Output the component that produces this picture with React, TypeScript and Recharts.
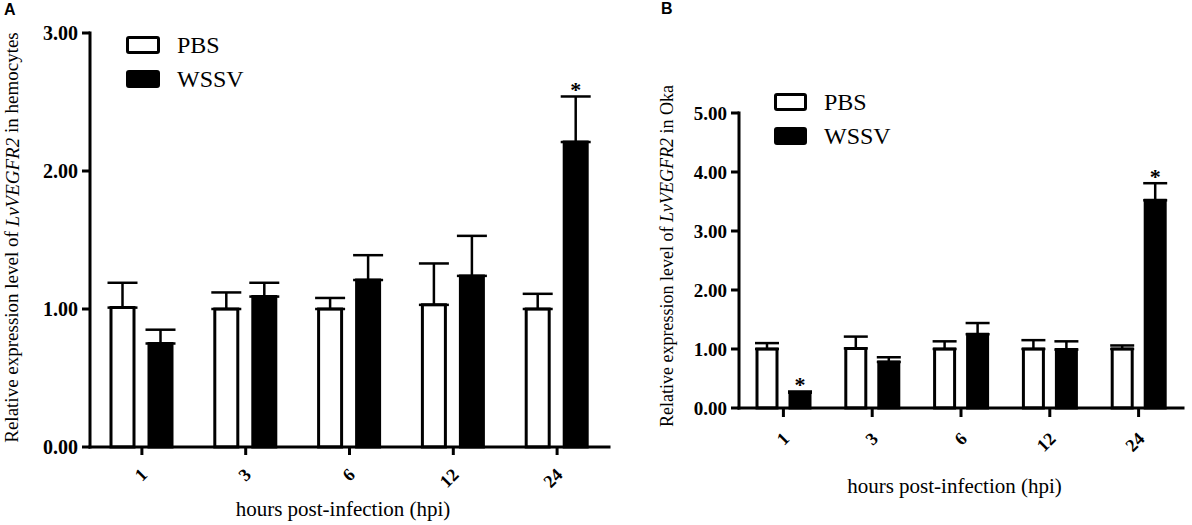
import React from 'react';
import { BarChart, Bar, XAxis, YAxis, ErrorBar, Legend, LabelList, Label } from 'recharts';

// ---------- data ----------
const hours = ['1', '3', '6', '12', '24'];

const pbsHemocytes = [1.01, 1.0, 1.0, 1.03, 1.0];
const pbsHemocytesErr = [0.18, 0.12, 0.08, 0.3, 0.11];
const wssvHemocytes = [0.75, 1.09, 1.21, 1.24, 2.21];
const wssvHemocytesErr = [0.1, 0.1, 0.18, 0.29, 0.33];
const sigHemocytes = ['', '', '', '', '*'];

const pbsOka = [1.0, 1.01, 1.0, 1.0, 1.0];
const pbsOkaErr = [0.1, 0.2, 0.13, 0.15, 0.06];
const wssvOka = [0.26, 0.78, 1.25, 0.99, 3.52];
const wssvOkaErr = [0.02, 0.08, 0.19, 0.14, 0.29];
const sigOka = ['*', '', '', '', '*'];

const yTicksA = [0, 1, 2, 3];
const yTicksB = [0, 1, 2, 3, 4, 5];

const seriesNames = ['PBS', 'WSSV'];
const xTitle = 'hours post-infection (hpi)';

// ---------- styling ----------
const SERIF = "'Liberation Serif', 'Times New Roman', serif";
const SANS = "'Liberation Sans', Arial, sans-serif";
const fills: Record<string, string> = { PBS: '#ffffff', WSSV: '#000000' };

type Row = {
  hour: string;
  pbs: number;
  pbsErr: number[];
  wssv: number;
  wssvErr: number[];
  sig: string;
};

const buildRows = (p: number[], pe: number[], w: number[], we: number[], s: string[]): Row[] =>
  hours.map((h, i) => ({
    hour: h,
    pbs: p[i],
    pbsErr: [0, pe[i]],
    wssv: w[i],
    wssvErr: [0, we[i]],
    sig: s[i],
  }));

const rowsA = buildRows(pbsHemocytes, pbsHemocytesErr, wssvHemocytes, wssvHemocytesErr, sigHemocytes);
const rowsB = buildRows(pbsOka, pbsOkaErr, wssvOka, wssvOkaErr, sigOka);

const makeStar = (rows: Row[]) => (props: any) => {
  const { x, y, width, height, value, index } = props;
  if (!value) return null;
  const row = rows[index];
  const pxPerUnit = height / row.wssv;
  const errTop = y - row.wssvErr[1] * pxPerUnit;
  return (
    <text
      x={x + width / 2}
      y={errTop + 1}
      textAnchor="middle"
      fontFamily={SERIF}
      fontWeight="bold"
      fontSize={22}
      fill="#000"
    >
      {value}
    </text>
  );
};

const makeXTick = (dx: number, dy: number) => (props: any) => {
  const { x, y, payload } = props;
  return (
    <g transform={`translate(${x + dx},${y + dy})`}>
      <text
        transform="rotate(-45)"
        textAnchor="end"
        fontFamily={SERIF}
        fontWeight="bold"
        fontSize={18}
        fill="#000"
      >
        {payload.value}
      </text>
    </g>
  );
};

const makeXTitle = (baselineOffset: number) => (props: any) => {
  const vb = props.viewBox;
  return (
    <text
      x={vb.x + vb.width / 2 - 6.5}
      y={vb.y + baselineOffset}
      textAnchor="middle"
      fontFamily={SERIF}
      fontSize={21}
      fill="#000"
    >
      {xTitle}
    </text>
  );
};

const makeYTitle = (cx: number, dyCenter: number, fontSize: number, suffix: string) => (props: any) => {
  const vb = props.viewBox;
  const cy = vb.y + vb.height / 2 + dyCenter;
  return (
    <text
      x={cx}
      y={cy}
      transform={`rotate(-90, ${cx}, ${cy})`}
      textAnchor="middle"
      dominantBaseline="central"
      fontFamily={SERIF}
      fontSize={fontSize}
      fill="#000"
    >
      {'Relative expression level of '}
      <tspan fontStyle="italic">LvVEGFR2</tspan>
      {' in ' + suffix}
    </text>
  );
};

const makeLegend = (boxW: number, textGap: number) => (props: any) => {
  const payload = props.payload || [];
  return (
    <div style={{ fontFamily: SERIF, fontSize: 24, color: '#000', lineHeight: 1 }}>
      {payload.map((e: any) => (
        <div key={e.value} style={{ display: 'flex', alignItems: 'center', height: 18, marginBottom: 16 }}>
          <div
            style={{
              width: boxW,
              height: 18,
              boxSizing: 'border-box',
              border: '3px solid #000',
              borderRadius: 3,
              background: fills[e.value],
            }}
          />
          <span style={{ marginLeft: textGap }}>{e.value}</span>
        </div>
      ))}
    </div>
  );
};

const yTickStyleA = { fill: '#000', fontSize: 20, fontWeight: 'bold' as const, fontFamily: SERIF };
const yTickStyleB = { fill: '#000', fontSize: 19, fontWeight: 'bold' as const, fontFamily: SERIF };
const axisLineStyle = { stroke: '#000', strokeWidth: 3, strokeLinecap: 'square' as const };
const tickLineStyle = { stroke: '#000', strokeWidth: 3 };

export default function App() {
  return (
    <div style={{ position: 'absolute', left: 0, top: 0, width: 1192, height: 525, background: '#fff', overflow: 'hidden' }}>
      <div style={{ position: 'absolute', left: 4, top: 1, fontFamily: SANS, fontWeight: 'bold', fontSize: 16 }}>A</div>
      <div style={{ position: 'absolute', left: 661, top: 0, fontFamily: SANS, fontWeight: 'bold', fontSize: 16 }}>B</div>

      {/* Panel A */}
      <div style={{ position: 'absolute', left: 0, top: 0 }}>
        <BarChart
          width={620}
          height={525}
          data={rowsA}
          margin={{ top: 33, right: 11, bottom: 0, left: 30 }}
          barSize={23}
          barGap={15}
        >
          <XAxis
            dataKey="hour"
            interval={0}
            height={78}
            axisLine={axisLineStyle}
            tickLine={tickLineStyle}
            tickSize={8}
            tick={makeXTick(6.5, 19)}
          >
            <Label content={makeXTitle(69)} />
          </XAxis>
          <YAxis
            width={60}
            domain={[0, 3]}
            ticks={yTicksA}
            interval={0}
            axisLine={axisLineStyle}
            tickLine={tickLineStyle}
            tickSize={8}
            tickMargin={4}
            tick={yTickStyleA}
            tickFormatter={(v: number) => v.toFixed(2)}
          >
            <Label content={makeYTitle(11.5, -2.5, 19, 'hemocytes')} />
          </YAxis>
          <Legend
            layout="vertical"
            align="center"
            verticalAlign="middle"
            wrapperStyle={{ left: 126, top: 36, width: 200 }}
            content={makeLegend(34, 17)}
          />
          <Bar dataKey="pbs" name={seriesNames[0]} fill={fills.PBS} stroke="#000" strokeWidth={3} isAnimationActive={false}>
            <ErrorBar dataKey="pbsErr" width={15} strokeWidth={2.5} stroke="#000" direction="y" />
          </Bar>
          <Bar dataKey="wssv" name={seriesNames[1]} fill={fills.WSSV} stroke="#000" strokeWidth={3} isAnimationActive={false}>
            <ErrorBar dataKey="wssvErr" width={15} strokeWidth={2.5} stroke="#000" direction="y" />
            <LabelList dataKey="sig" content={makeStar(rowsA)} />
          </Bar>
        </BarChart>
      </div>

      {/* Panel B */}
      <div style={{ position: 'absolute', left: 620, top: 0 }}>
        <BarChart
          width={572}
          height={525}
          data={rowsB}
          margin={{ top: 113, right: 9, bottom: 0, left: 59 }}
          barSize={20}
          barGap={13}
        >
          <XAxis
            dataKey="hour"
            interval={0}
            height={117}
            axisLine={axisLineStyle}
            tickLine={tickLineStyle}
            tickSize={9}
            tick={makeXTick(7, 21)}
          >
            <Label content={makeXTitle(85)} />
          </XAxis>
          <YAxis
            width={60}
            domain={[0, 5]}
            ticks={yTicksB}
            interval={0}
            axisLine={axisLineStyle}
            tickLine={tickLineStyle}
            tickSize={8}
            tickMargin={4}
            tick={yTickStyleB}
            tickFormatter={(v: number) => v.toFixed(2)}
          >
            <Label content={makeYTitle(46.5, -4.5, 18, 'Oka')} />
          </YAxis>
          <Legend
            layout="vertical"
            align="center"
            verticalAlign="middle"
            wrapperStyle={{ left: 154, top: 93, width: 200 }}
            content={makeLegend(33, 17)}
          />
          <Bar dataKey="pbs" name={seriesNames[0]} fill={fills.PBS} stroke="#000" strokeWidth={3} isAnimationActive={false}>
            <ErrorBar dataKey="pbsErr" width={12} strokeWidth={2.5} stroke="#000" direction="y" />
          </Bar>
          <Bar dataKey="wssv" name={seriesNames[1]} fill={fills.WSSV} stroke="#000" strokeWidth={3} isAnimationActive={false}>
            <ErrorBar dataKey="wssvErr" width={12} strokeWidth={2.5} stroke="#000" direction="y" />
            <LabelList dataKey="sig" content={makeStar(rowsB)} />
          </Bar>
        </BarChart>
      </div>
    </div>
  );
}
